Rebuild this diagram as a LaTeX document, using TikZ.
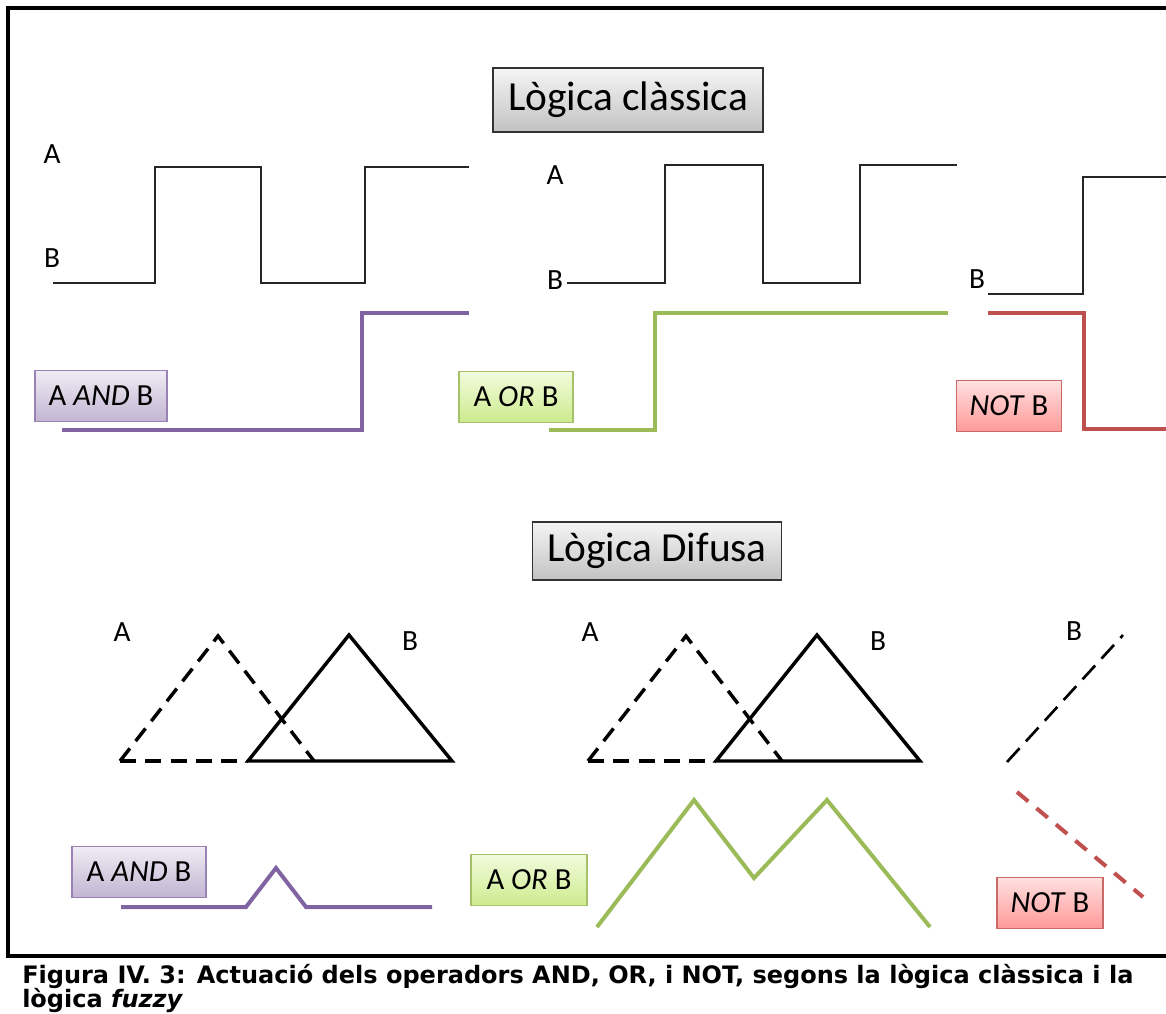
\documentclass[tikz,border=0pt]{standalone}
\usepackage{fontspec}
\setmainfont{Carlito}
\newfontfamily\capfont{DejaVu Sans}
\definecolor{andline}{HTML}{8064A2}
\definecolor{orline}{HTML}{9BBB59}
\definecolor{notline}{HTML}{C0504D}
\definecolor{ortop}{HTML}{F2FBDD}
\definecolor{orbot}{HTML}{CDEB8E}
\begin{document}
\begin{tikzpicture}[x=0.75pt,y=-0.75pt,
  sig/.style={line width=1.3pt, color=black!85},
  res/.style={line width=3pt, line join=miter},
  tri/.style={line width=2.6pt, line join=miter},
  dsh/.style={dash pattern=on 12pt off 7pt},
  lbl/.style={font=\fontsize{22}{26}\selectfont, anchor=base, inner sep=0pt},
  titlebox/.style={draw=black!80, line width=0.8pt, top color=black!4, bottom color=black!24,
    minimum width=270*0.75pt, minimum height=64*0.75pt, inner sep=0pt,
    font=\fontsize{31}{36}\selectfont},
  opbox/.style={line width=0.8pt, inner sep=0pt, minimum height=51*0.75pt,
    font=\fontsize{23}{27}\selectfont},
  andbox/.style={opbox, draw=andline!80, top color=andline!12, bottom color=andline!48},
  orbox/.style={opbox, draw=orline!90, top color=ortop, bottom color=orbot},
  notbox/.style={opbox, draw=notline!85, top color=red!12, bottom color=red!40},
  captxt/.style={anchor=base west, inner sep=0pt, font=\capfont\bfseries\fontsize{18}{22}\selectfont},
]
\useasboundingbox (0,0) rectangle (1166,1013);

% frame
\draw[line width=2.3pt] (1170,8) -- (8,8) -- (8,956) -- (1170,956);

% ---------- classical logic ----------
\node[titlebox] (t1) at (628,100) {Lògica clàssica};

\node[lbl] (a1) at (52,164) {A};
\node[lbl] (b1) at (52,267) {B};
\draw[sig] (53,283) -- (155,283) -- (155,167) -- (261,167) -- (261,283)
  -- (365,283) -- (365,167) -- (469,167);
\draw[res, andline] (62,430) -- (362,430) -- (362,313) -- (469,313);
\node[andbox, minimum width=132*0.75pt] (and1) at (101,396) {A \textit{AND} B};

\node[lbl] (a2) at (555,185) {A};
\node[lbl] (b2) at (555,289) {B};
\draw[sig] (567,283) -- (665,283) -- (665,165) -- (763,165) -- (763,283)
  -- (860,283) -- (860,165) -- (957,165);
\draw[res, orline] (549,430) -- (655,430) -- (655,313) -- (948,313);
\node[orbox, minimum width=114*0.75pt] (or1) at (516,397) {A \textit{OR} B};

\node[lbl] (b3) at (977,288) {B};
\draw[sig] (988,294) -- (1083,294) -- (1083,177) -- (1170,177);
\draw[res, notline] (988,313) -- (1084,313) -- (1084,429) -- (1170,429);
\node[notbox, minimum width=105*0.75pt] (not1) at (1009,406) {\textit{NOT} B};

% ---------- fuzzy logic ----------
\node[titlebox, minimum width=249*0.75pt, minimum height=58*0.75pt] (t2) at (657,551) {Lògica Difusa};

\node[lbl] (a4) at (122,641) {A};
\node[lbl] (b4) at (410,650) {B};
\draw[tri, dsh] (120,761) -- (218,636) -- (314,761);
\draw[tri, dsh] (120,761) -- (248,761);
\draw[tri] (248,761) -- (349,635) -- (452,761) -- cycle;
\draw[res, andline] (121,907) -- (246,907) -- (276,868) -- (306,907) -- (432,907);
\node[andbox, minimum width=134*0.75pt] (and2) at (139,872) {A \textit{AND} B};

\node[lbl] (a5) at (590,641) {A};
\node[lbl] (b5) at (878,650) {B};
\draw[tri, dsh] (588,761) -- (686,636) -- (782,761);
\draw[tri, dsh] (588,761) -- (716,761);
\draw[tri] (716,761) -- (817,635) -- (920,761) -- cycle;
\draw[res, orline] (597,927) -- (694,800) -- (754,878) -- (827,800) -- (930,927);
\node[orbox, minimum width=116*0.75pt] (or2) at (529,880) {A \textit{OR} B};

\node[lbl] (b6) at (1074,640) {B};
\draw[line width=2pt, dash pattern=on 14pt off 7pt] (1007,762) -- (1123,635);
\draw[res, notline, dash pattern=on 11pt off 8pt] (1017,792) -- (1143,897);
\node[notbox, minimum width=106*0.75pt] (not2) at (1050,903) {\textit{NOT} B};

% ---------- caption ----------
\node[captxt] (cap1) at (22,983)
  {Figura IV. 3: Actuació dels operadors AND, OR, i NOT, segons la lògica clàssica i la};
\node[captxt] (cap2) at (22,1007) {lògica \textit{fuzzy}};
\end{tikzpicture}
\end{document}
